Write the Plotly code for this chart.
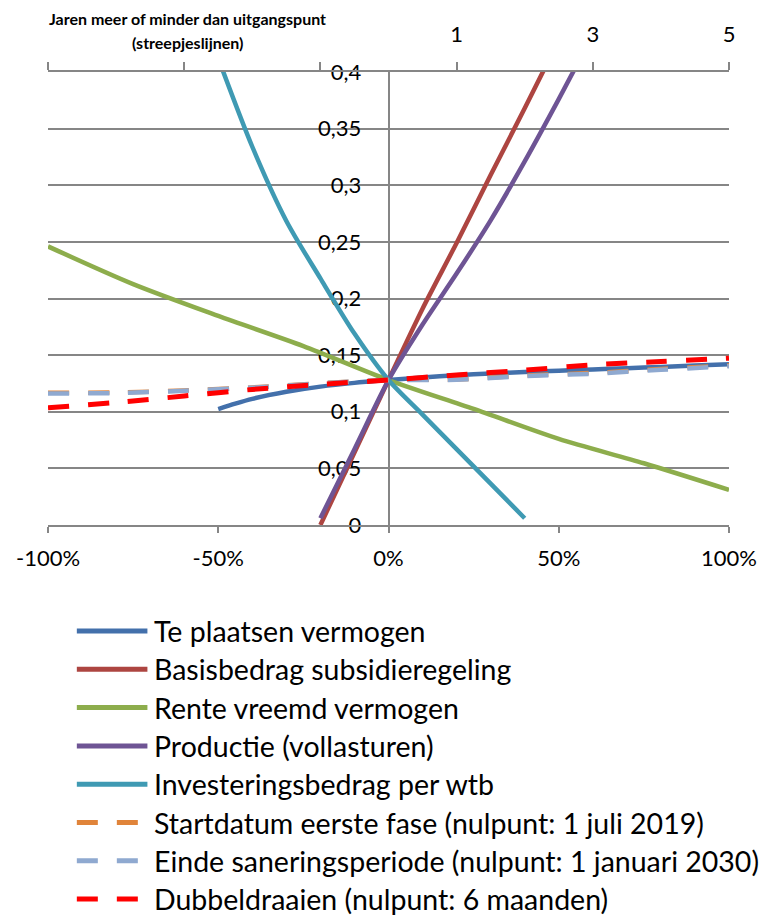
import plotly.graph_objects as go

# ---------------- data ----------------
# solid lines: x = relative change (fraction), y = value
blue_x = [-0.5, -0.45, -0.4, -0.3, -0.2, -0.1, 0.0, 0.1, 0.2, 0.3, 0.4, 0.5, 0.6, 0.7, 0.8, 0.9, 1.0]
blue_y = [0.1024, 0.1072, 0.1114, 0.1176, 0.1222, 0.1255, 0.128, 0.1303, 0.1322, 0.1338, 0.1351,
          0.1363, 0.1374, 0.1385, 0.1396, 0.1408, 0.142]

red_x = [-0.2, -0.1, 0.0, 0.1, 0.2, 0.3, 0.4, 0.5]
red_y = [0.0, 0.064, 0.128, 0.191, 0.249, 0.309, 0.368, 0.428]

green_x = [-1.0, -0.75, -0.5, -0.25, 0.0, 0.25, 0.5, 0.75, 1.0]
green_y = [0.246, 0.2127, 0.1846, 0.158, 0.128, 0.1025, 0.076, 0.0545, 0.031]

purple_x = [-0.2, -0.1, 0.0, 0.1, 0.2, 0.3, 0.4, 0.5, 0.6]
purple_y = [0.006, 0.067, 0.128, 0.177, 0.222, 0.269, 0.321, 0.376, 0.433]

teal_x = [-0.5, -0.4, -0.3, -0.2, -0.1, 0.0, 0.1, 0.2, 0.3, 0.4]
teal_y = [0.412, 0.334, 0.2685, 0.2177, 0.169, 0.128, 0.0975, 0.067, 0.0365, 0.006]

# dashed lines: x = years relative to reference (top axis)
years = [-5, -4, -3, -2, -1, 0, 1, 2, 3, 4, 5]
orange_y = [0.1168, 0.117, 0.1188, 0.1215, 0.1252, 0.128, 0.1285, 0.132, 0.1343, 0.1378, 0.141]
lightblue_y = [0.1162, 0.1165, 0.1185, 0.1213, 0.125, 0.128, 0.1282, 0.1315, 0.1336, 0.137, 0.1402]
reddash_y = [0.1035, 0.1082, 0.1139, 0.1197, 0.1242, 0.128, 0.1325, 0.1367, 0.1414, 0.1444, 0.1473]

series_names = [
    "Te plaatsen vermogen",
    "Basisbedrag subsidieregeling",
    "Rente vreemd vermogen",
    "Productie (vollasturen)",
    "Investeringsbedrag per wtb",
    "Startdatum eerste fase (nulpunt: 1 juli 2019)",
    "Einde saneringsperiode (nulpunt: 1 januari 2030)",
    "Dubbeldraaien (nulpunt: 6 maanden)",
]

x_ticks = [-1.0, -0.5, 0.0, 0.5, 1.0]
x_ticktext = ["-100%", "-50%", "0%", "50%", "100%"]
y_ticks = [0, 0.05, 0.1, 0.15, 0.2, 0.25, 0.3, 0.35, 0.4]
y_ticktext = ["0", "0,05", "0,1", "0,15", "0,2", "0,25", "0,3", "0,35", "0,4"]
top_ticks = [-5, -3, -1, 1, 3, 5]
top_ticktext = ["", "", "", "1", "3", "5"]
top_title = ["Jaren meer of minder dan uitgangspunt", "(streepjeslijnen)"]

# ---------------- styling ----------------
FONT = "Lato"
W, H = 769, 917
L, R, T, B = 48, 36, 72, 392
PW, PH = W - L - R, H - T - B
GRID = "#868686"
colors = ["#4370AB", "#AD4541", "#8DAD4C", "#6E5494", "#3F9AB3", "#E0843A", "#8FA9D0", "#FF0000"]
dashes = [None] * 5 + ["21px,19px"] * 3
LW = 4.5
DASH_PATTERN = "21px,19px"

fig = go.Figure()

solid = [(blue_x, blue_y), (red_x, red_y), (green_x, green_y), (purple_x, purple_y), (teal_x, teal_y)]
for i, (xs, ys) in enumerate(solid):
    fig.add_trace(go.Scatter(x=xs, y=ys, mode="lines", name=series_names[i],
                             line=dict(color=colors[i], width=LW, shape="spline", smoothing=0.8),
                             xaxis="x", yaxis="y", showlegend=False))

for j, ys in enumerate([orange_y, lightblue_y, reddash_y]):
    i = 5 + j
    fig.add_trace(go.Scatter(x=years, y=ys, mode="lines", name=series_names[i],
                             line=dict(color=colors[i], width=5 if i == 7 else LW, dash=DASH_PATTERN,
                                       shape="spline", smoothing=0.8),
                             xaxis="x2", yaxis="y", showlegend=False))

# ---------------- custom legend ----------------
def px_to_paper_x(px):
    return (px - L) / PW

def py_to_paper_y(py):
    return (H - B - py) / PH

for i, name in enumerate(series_names):
    py = 631 + 38.3 * i
    yy = py_to_paper_y(py)
    if dashes[i] is None:
        x0, x1 = 77, 148
    else:
        x0, x1 = 77, 139
    fig.add_shape(type="line", xref="paper", yref="paper",
                  x0=px_to_paper_x(x0), x1=px_to_paper_x(x1), y0=yy, y1=yy,
                  line=dict(color=colors[i], width=5, dash=dashes[i] if dashes[i] else "solid"))
    fig.add_annotation(xref="paper", yref="paper", x=px_to_paper_x(153), y=yy,
                       xanchor="left", yanchor="middle", text=name, showarrow=False,
                       font=dict(family=FONT, size=28.5, color="black"))

# top axis title (two lines)
for k, (txt, py) in enumerate(zip(top_title, [18, 42])):
    fig.add_annotation(xref="paper", yref="paper", x=px_to_paper_x(188), y=py_to_paper_y(py),
                       xanchor="center", yanchor="middle", text="<b>" + txt + "</b>", showarrow=False,
                       font=dict(family=FONT, size=16, color="black"))

fig.update_layout(
    width=W, height=H,
    margin=dict(l=L, r=R, t=T, b=B),
    paper_bgcolor="white", plot_bgcolor="white",
    font=dict(family=FONT, size=22, color="black"),
    showlegend=False,
    xaxis=dict(domain=[0, 1], range=[-1, 1], tickvals=x_ticks, ticktext=x_ticktext,
               showgrid=False, zeroline=False, showline=True, linecolor=GRID, linewidth=1.5,
               ticks="outside", ticklen=6, tickwidth=1.5, tickcolor=GRID, ticklabelstandoff=7,
               anchor="y", fixedrange=True),
    xaxis2=dict(range=[-5, 5], overlaying="x", side="top", anchor="y",
                tickvals=top_ticks, ticktext=top_ticktext,
                showgrid=False, zeroline=False, showline=True, linecolor=GRID, linewidth=1.5,
                ticks="outside", ticklen=8, tickwidth=1.5, tickcolor=GRID, ticklabelstandoff=11),
    yaxis=dict(domain=[0, 1], range=[0, 0.4], tickvals=y_ticks, ticktext=y_ticktext,
               anchor="free", position=0.5, showgrid=True, gridcolor=GRID, gridwidth=1.5,
               zeroline=False, showline=True, linecolor=GRID, linewidth=1.5,
               ticks="", ticklabelstandoff=22, layer="below traces"),
)

fig.write_html("out.html")
